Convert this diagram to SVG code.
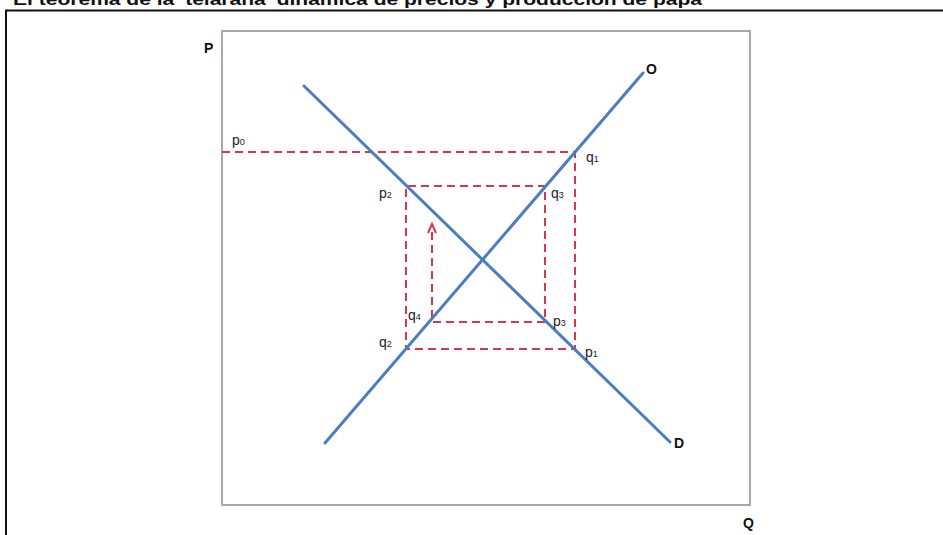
<svg xmlns="http://www.w3.org/2000/svg" width="943" height="535" viewBox="0 0 943 535">
<style>
.lbl{font-family:"Liberation Sans","Open Sans",sans-serif;font-size:14px;fill:#222}
.sub{font-size:9px}
.ax{font-family:"Liberation Sans",sans-serif;font-size:14px;font-weight:bold;fill:#111}
.curve{stroke:#4a7ebf;stroke-width:3;fill:none;stroke-linecap:round}
.dash{stroke:#d6364e;stroke-width:2;fill:none;stroke-dasharray:8 5}
</style>
<rect width="943" height="535" fill="#fff"/>
<text x="13" y="5" font-family="Liberation Sans, sans-serif" font-size="16" font-weight="bold" fill="#111" textLength="689" lengthAdjust="spacingAndGlyphs">El teorema de la 'telaraña' dinámica de precios y producción  de papa</text>
<path d="M6 535 V10.5 H943" stroke="#111" stroke-width="2" fill="none"/>
<rect id="chart-frame" x="222" y="31" width="528" height="474" fill="none" stroke="#a8a8a8" stroke-width="2"/>
<g id="connectors">
<path class="dash" d="M222 152 H575 V349 H406 V186 H545 V322 H432 V226"/>
<path d="M428 233 L432 224 L436 233" stroke="#d6364e" stroke-width="2" fill="none"/>
</g>
<g id="demand"><line class="curve" x1="304" y1="86" x2="670" y2="442"/><text class="ax" x="674" y="448">D</text></g>
<g id="supply"><line class="curve" x1="325" y1="443" x2="643" y2="73"/><text class="ax" x="646" y="74">O</text></g>
<g id="axis-p"><text class="ax" x="204" y="53">P</text></g>
<g id="axis-q"><text class="ax" x="743" y="528">Q</text></g>
<g id="p0"><text class="lbl" x="232" y="145">p<tspan class="sub">0</tspan></text></g>
<g id="q1"><text class="lbl" x="586" y="162">q<tspan class="sub">1</tspan></text></g>
<g id="p1"><text class="lbl" x="585" y="357">p<tspan class="sub">1</tspan></text></g>
<g id="q2"><text class="lbl" x="379" y="347">q<tspan class="sub">2</tspan></text></g>
<g id="p2"><text class="lbl" x="379" y="198">p<tspan class="sub">2</tspan></text></g>
<g id="q3"><text class="lbl" x="551" y="198">q<tspan class="sub">3</tspan></text></g>
<g id="p3"><text class="lbl" x="553" y="326">p<tspan class="sub">3</tspan></text></g>
<g id="q4"><text class="lbl" x="408" y="320">q<tspan class="sub">4</tspan></text></g>
</svg>
